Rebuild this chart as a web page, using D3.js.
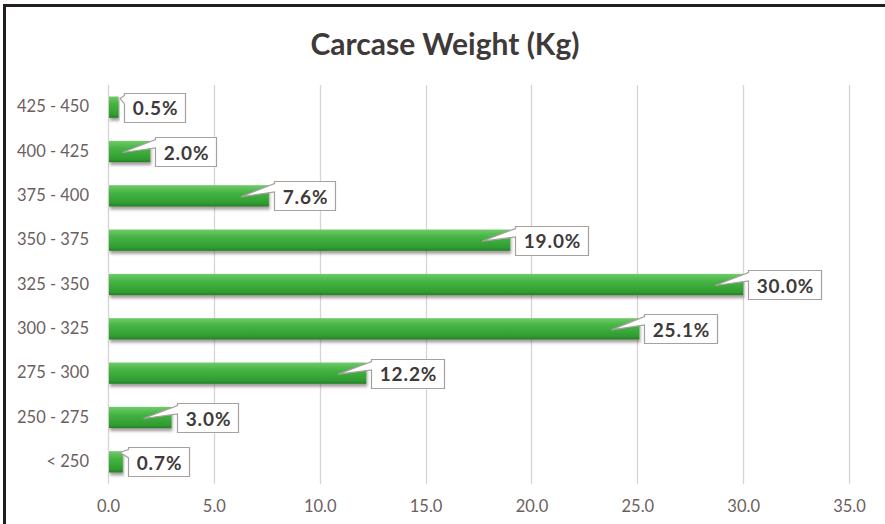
<!DOCTYPE html>
<html>
<head>
<meta charset="utf-8">
<script src="https://cdn.jsdelivr.net/npm/d3@7"></script>
<style>
    body { margin: 0; background: #fff; }
    #vis text { font-family: Lato, 'Open Sans', sans-serif; }
</style>
</head>
<body>
<div id="vis"></div>
<script>
var categories = ['425 - 450', '400 - 425', '375 - 400', '350 - 375', '325 - 350',
                  '300 - 325', '275 - 300', '250 - 275', '< 250'];
var values = [0.5, 2.0, 7.6, 19.0, 30.0, 25.1, 12.2, 3.0, 0.7];
var xTicks = [0, 5, 10, 15, 20, 25, 30, 35];
var title = 'Carcase Weight (Kg)';

var w = 885, h = 524;
var margin = {left: 108, right: 36, top: 85, bottom: 40};

var svg = d3.select('#vis')
    .append('svg')
    .attr('width', w)
    .attr('height', h);

var defs = svg.append('defs');

var grad = defs.append('linearGradient')
    .attr('id', 'barGrad')
    .attr('x1', 0).attr('y1', 0).attr('x2', 0).attr('y2', 1);
grad.append('stop').attr('offset', '0%').attr('stop-color', '#6fcb6b');
grad.append('stop').attr('offset', '35%').attr('stop-color', '#45b443');
grad.append('stop').attr('offset', '85%').attr('stop-color', '#2f9c30');
grad.append('stop').attr('offset', '100%').attr('stop-color', '#247f26');

var shadow = defs.append('filter')
    .attr('id', 'shadow')
    .attr('x', '-5%').attr('y', '-30%')
    .attr('width', '115%').attr('height', '180%');
shadow.append('feDropShadow')
    .attr('dx', 1).attr('dy', 3)
    .attr('stdDeviation', 1.6)
    .attr('flood-color', '#5a5050')
    .attr('flood-opacity', 0.55);

// frame (only top and left edges show in the picture)
svg.append('rect')
    .attr('x', 4.5).attr('y', 5.5)
    .attr('width', w + 20).attr('height', h + 20)
    .attr('fill', 'none')
    .attr('stroke', '#231f20')
    .attr('stroke-width', 3);

var xScale = d3.scaleLinear()
    .domain([0, 35])
    .range([margin.left, 849]);

var yScale = d3.scaleBand()
    .domain(categories)
    .range([margin.top, 484])
    .paddingInner(0.52)
    .paddingOuter(0.26);

// gridlines
svg.append('g')
    .selectAll('line')
    .data(xTicks)
    .enter().append('line')
    .attr('x1', function(d) { return Math.round(xScale(d)) + 0.5; })
    .attr('x2', function(d) { return Math.round(xScale(d)) + 0.5; })
    .attr('y1', margin.top)
    .attr('y2', 484)
    .attr('stroke', '#d9d4d4')
    .attr('stroke-width', 1.3);

// x tick labels
var xAxis = d3.axisBottom(xScale)
    .tickValues(xTicks)
    .tickSize(0)
    .tickPadding(0)
    .tickFormat(d3.format('.1f'));

var xg = svg.append('g')
    .attr('transform', 'translate(0,' + 500 + ')')
    .call(xAxis);
xg.select('.domain').remove();
xg.selectAll('text')
    .attr('fill', '#6b6060')
    .style('font-size', '16.5px');

// y category labels
var yAxis = d3.axisLeft(yScale)
    .tickSize(0)
    .tickPadding(0);

var yg = svg.append('g')
    .attr('transform', 'translate(' + 89 + ',0)')
    .call(yAxis);
yg.select('.domain').remove();
yg.selectAll('text')
    .attr('fill', '#6b6060')
    .style('font-size', '16.5px');

// bars
svg.append('g')
    .selectAll('rect')
    .data(values)
    .enter().append('rect')
    .attr('x', xScale(0) + 1)
    .attr('y', function(d, i) { return yScale(categories[i]); })
    .attr('width', function(d) { return xScale(d) - xScale(0) - 1; })
    .attr('height', yScale.bandwidth())
    .attr('fill', 'url(#barGrad)')
    .attr('filter', 'url(#shadow)');

// data callouts
var labels = svg.append('g');
values.forEach(function(v, i) {
    var cy = yScale(categories[i]) + yScale.bandwidth() / 2;
    var barEnd = xScale(v);
    var g = labels.append('g');
    var path = g.append('path');
    var t = g.append('text')
        .attr('fill', '#3f3a3a')
        .style('font-size', '19px')
        .style('font-weight', 'bold')
        .style('letter-spacing', '0.9px')
        .attr('dominant-baseline', 'central')
        .text(d3.format('.1f')(v) + '%');

    var tw = t.node().getComputedTextLength();
    var bw = Math.round(tw + 15), bh = 29;
    var left = Math.round(barEnd + 5) + 0.5;
    var top = Math.round(cy - bh / 2) + 0.5;
    var tipX = Math.max(barEnd - 28, xScale(0) + 12);
    var tipY = v < 1 ? top + 5 : cy + 1;

    t.attr('x', left + bw / 2 + 0.5)
        .attr('y', cy + 0.5)
        .attr('text-anchor', 'middle');

    var d = 'M' + left + ',' + top +
        'L' + (left + bw) + ',' + top +
        'L' + (left + bw) + ',' + (top + bh) +
        'L' + left + ',' + (top + bh) +
        'L' + left + ',' + (top + bh * 0.36) +
        'L' + tipX + ',' + tipY +
        'L' + left + ',' + (top + 2) + 'Z';

    path.attr('d', d)
        .attr('fill', '#ffffff')
        .attr('stroke', '#a89f9f')
        .attr('stroke-width', 1.2);
});

// title
svg.append('text')
    .attr('x', 445)
    .attr('y', 55)
    .attr('text-anchor', 'middle')
    .attr('fill', '#3f3a3a')
    .style('font-size', '30px')
    .style('font-weight', 'bold')
    .text(title);
</script>
</body>
</html>
